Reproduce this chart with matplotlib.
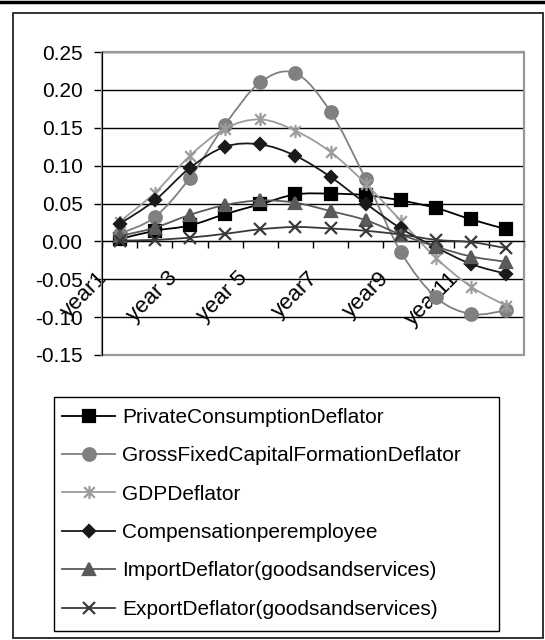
import numpy as np
import matplotlib
matplotlib.use("Agg")
import matplotlib.pyplot as plt
from matplotlib.path import Path
from matplotlib.patches import PathPatch, Rectangle
from matplotlib.lines import Line2D
from matplotlib.markers import MarkerStyle
from matplotlib.transforms import ScaledTranslation

plt.rcParams['font.family'] = 'Liberation Sans'

# deflator growth rates, year1 .. year12
years = np.arange(1, 13)
tick_years = [1, 3, 5, 7, 9, 11]
tick_labels = ['year1', 'year 3', 'year 5', 'year7', 'year9', 'year11']

private_cons = [0.003, 0.014, 0.021, 0.036, 0.049, 0.062, 0.063, 0.061, 0.054, 0.044, 0.029, 0.016]
gfcf = [0.010, 0.032, 0.084, 0.154, 0.210, 0.222, 0.171, 0.082, -0.014, -0.074, -0.096, -0.091]
gdp = [0.026, 0.064, 0.113, 0.149, 0.161, 0.146, 0.118, 0.076, 0.027, -0.022, -0.060, -0.085]
compensation = [0.023, 0.054, 0.097, 0.125, 0.128, 0.113, 0.085, 0.050, 0.017, -0.008, -0.030, -0.043]
import_defl = [0.007, 0.018, 0.035, 0.048, 0.054, 0.051, 0.040, 0.028, 0.009, -0.007, -0.020, -0.027]
export_defl = [0.001, 0.002, 0.005, 0.010, 0.016, 0.019, 0.017, 0.014, 0.009, 0.002, -0.001, -0.009]

labels = ['PrivateConsumptionDeflator', 'GrossFixedCapitalFormationDeflator', 'GDPDeflator',
          'Compensationperemployee', 'ImportDeflator(goodsandservices)', 'ExportDeflator(goodsandservices)']

# asterisk marker: an x with a vertical bar through it
star = Path([(-0.5, -0.5), (0.5, 0.5), (-0.5, 0.5), (0.5, -0.5), (0, -0.62), (0, 0.62)],
            [Path.MOVETO, Path.LINETO, Path.MOVETO, Path.LINETO, Path.MOVETO, Path.LINETO])

series = [
    (private_cons, '#000000', 's', 8.0, '#000000'),
    (gfcf, '#808080', 'o', 9.0, '#808080'),
    (gdp, '#9c9c9c', MarkerStyle(star), 9.5, '#9c9c9c'),
    (compensation, '#1a1a1a', 'D', 6.5, '#1a1a1a'),
    (import_defl, '#5a5a5a', '^', 8.5, '#5a5a5a'),
    (export_defl, '#3a3a3a', 'x', 8.5, '#3a3a3a'),
]


def smooth_path(x, y):
    # cubic bezier through every point, tangents from the neighbours
    x = np.asarray(x, float)
    y = np.asarray(y, float)
    pts = np.column_stack([x, y])
    ext = np.vstack([pts[0], pts, pts[-1]])
    verts = [pts[0]]
    codes = [Path.MOVETO]
    for i in range(len(pts) - 1):
        p0, p1, p2, p3 = ext[i], ext[i + 1], ext[i + 2], ext[i + 3]
        verts += [p1 + (p2 - p0) / 6.0, p2 - (p3 - p1) / 6.0, p2]
        codes += [Path.CURVE4] * 3
    return Path(verts, codes)


W, H = 545, 640
fig = plt.figure(figsize=(W / 100, H / 100), dpi=100)

ax = fig.add_axes([102 / W, 1 - 355 / H, 422 / W, 303 / H])
ax.set_xlim(0.5, 12.5)
ax.set_ylim(-0.15, 0.25)

handles = []
for k, (vals, col, mk, ms, fc) in enumerate(series):
    ax.add_patch(PathPatch(smooth_path(years, vals), fill=False, edgecolor=col,
                           lw=1.3, zorder=3 + k))
    ax.plot(years, vals, linestyle='none', marker=mk, markersize=ms, color=col,
            markerfacecolor=fc, markeredgecolor=col, markeredgewidth=1.6, zorder=3 + k)
    handles.append(Line2D([], [], color=col, lw=1.3, marker=mk, markersize=ms,
                          markerfacecolor=fc, markeredgecolor=col, markeredgewidth=1.6))

# y axis
yt = [-0.15, -0.10, -0.05, 0.00, 0.05, 0.10, 0.15, 0.20, 0.25]
ax.set_yticks(yt)
ax.set_yticklabels(['%.2f' % v for v in yt], fontsize=15)
ax.tick_params(axis='y', direction='out', length=6, width=1, pad=8, color='black')
ax.yaxis.grid(True, color='black', lw=1)
ax.set_axisbelow(True)

# x axis sits on the zero line, ticks between categories
ax.spines['bottom'].set_position(('data', 0))
ax.spines['bottom'].set_color('black')
ax.spines['left'].set_color('black')
ax.spines['top'].set_visible(False)
ax.spines['right'].set_visible(False)
ax.set_xticks(np.arange(0.5, 13, 1.0))
ax.set_xticklabels([])
ax.tick_params(axis='x', which='major', direction='out', length=5, width=1, color='black')
ax.set_xticks(tick_years, minor=True)
ax.set_xticklabels(tick_labels, minor=True, fontsize=16)
ax.tick_params(axis='x', which='minor', length=0, pad=19)
shift = ScaledTranslation(-8 / 100, 0, fig.dpi_scale_trans)
for lab in ax.get_xticklabels(minor=True):
    lab.set_rotation(45)
    lab.set_ha('right')
    lab.set_va('top')
    lab.set_transform(lab.get_transform() + shift)

# grey border of the plot area
ax.add_patch(Rectangle((0, 0), 1, 1, transform=ax.transAxes, fill=False,
                       edgecolor='#999999', lw=1.6, clip_on=False, zorder=1))

# chart frame and top rule
fig.add_artist(Rectangle((12.5 / W, 1 - 638 / H), 530.5 / W, 625 / H, transform=fig.transFigure,
                         fill=False, edgecolor='#222222', lw=1.3))
fig.add_artist(Line2D([0, 1], [1 - 1.5 / H] * 2, transform=fig.transFigure, color='black', lw=2.5))

# legend box
fig.add_artist(Rectangle((54 / W, 1 - 631 / H), 445 / W, 234 / H, transform=fig.transFigure,
                         fill=False, edgecolor='black', lw=1))
fig.legend(handles, labels, loc='upper left', bbox_to_anchor=(62 / W, 1 - 408 / H),
           frameon=False, borderpad=0, borderaxespad=0, handlelength=2.55,
           handletextpad=0.35, labelspacing=0.93, numpoints=1, prop={'size': 15})

fig.savefig('out.png', dpi=100)
